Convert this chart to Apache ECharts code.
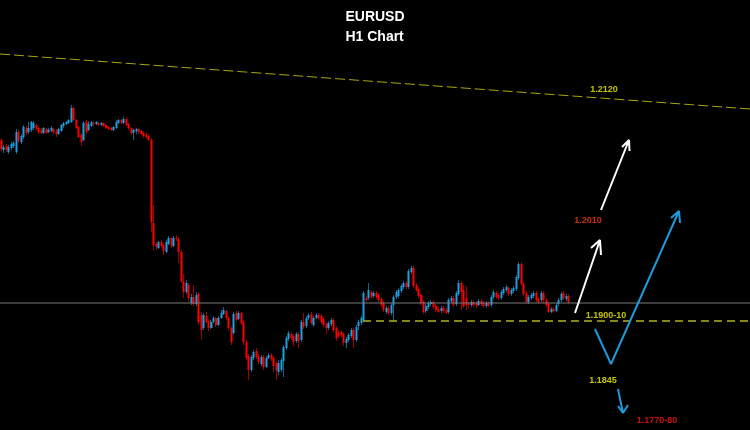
<!DOCTYPE html>
<html>
<head>
<meta charset="utf-8">
<script src="https://cdn.jsdelivr.net/npm/echarts@6/dist/echarts.min.js"></script>
<style>html,body{margin:0;padding:0;background:#000;}#chart{width:750px;height:430px;}</style>
</head>
<body>
<div id="chart"></div>
<script>
// ---- data ----
const categories = Array.from({length: 300}, (_, i) => 'H' + (i + 1));
const opens = [
1.2086,1.2076,1.2080,1.2074,1.2078,1.2080,1.2074,1.2094,1.2084,1.2089,
1.2098,1.2094,1.2096,1.2098,1.2101,1.2098,1.2096,1.2093,1.2097,1.2094,
1.2095,1.2097,1.2095,1.2092,1.2095,1.2100,1.2102,1.2103,1.2104,1.2118,
1.2106,1.2099,1.2091,1.2086,1.2104,1.2096,1.2100,1.2103,1.2102,1.2103,
1.2101,1.2103,1.2101,1.2099,1.2098,1.2096,1.2098,1.2103,1.2106,1.2103,
1.2107,1.2102,1.2098,1.2093,1.2095,1.2097,1.2095,1.2093,1.2091,1.2090,
1.2086,1.2003,1.1982,1.1978,1.1984,1.1981,1.1974,1.1982,1.1988,1.1980,
1.1988,1.1987,1.1974,1.1945,1.1934,1.1941,1.1923,1.1929,1.1922,1.1932,
1.1911,1.1898,1.1910,1.1905,1.1898,1.1904,1.1908,1.1901,1.1908,1.1912,
1.1915,1.1908,1.1898,1.1893,1.1913,1.1907,1.1913,1.1904,1.1884,1.1870,
1.1856,1.1868,1.1875,1.1870,1.1862,1.1869,1.1859,1.1868,1.1871,1.1868,
1.1863,1.1854,1.1856,1.1865,1.1878,1.1887,1.1892,1.1890,1.1885,1.1892,
1.1886,1.1904,1.1900,1.1908,1.1912,1.1901,1.1908,1.1911,1.1910,1.1907,
1.1902,1.1898,1.1902,1.1906,1.1898,1.1893,1.1894,1.1892,1.1883,1.1886,
1.1890,1.1896,1.1886,1.1900,1.1903,1.1906,1.1928,1.1928,1.1934,1.1930,
1.1933,1.1931,1.1927,1.1923,1.1914,1.1918,1.1913,1.1921,1.1929,1.1930,
1.1935,1.1939,1.1943,1.1939,1.1954,1.1958,1.1941,1.1937,1.1931,1.1924,
1.1915,1.1919,1.1922,1.1924,1.1920,1.1917,1.1915,1.1918,1.1916,1.1914,
1.1925,1.1928,1.1922,1.1932,1.1943,1.1936,1.1928,1.1922,1.1921,1.1924,
1.1923,1.1921,1.1925,1.1923,1.1920,1.1923,1.1921,1.1929,1.1933,1.1931,
1.1928,1.1933,1.1936,1.1938,1.1932,1.1935,1.1937,1.1948,1.1962,1.1942,
1.1933,1.1924,1.1928,1.1930,1.1933,1.1927,1.1926,1.1933,1.1926,1.1922,
1.1914,1.1917,1.1915,1.1922,1.1926,1.1933,1.1927,1.1930
];
const closes = [
1.2077,1.2079,1.2076,1.2079,1.2082,1.2083,1.2094,1.2085,1.2090,1.2099,
1.2093,1.2098,1.2104,1.2103,1.2097,1.2094,1.2093,1.2098,1.2093,1.2096,
1.2098,1.2094,1.2092,1.2097,1.2101,1.2103,1.2104,1.2106,1.2118,1.2106,
1.2098,1.2089,1.2084,1.2103,1.2094,1.2102,1.2104,1.2102,1.2104,1.2101,
1.2103,1.2100,1.2098,1.2097,1.2096,1.2099,1.2104,1.2106,1.2103,1.2107,
1.2101,1.2098,1.2093,1.2096,1.2097,1.2094,1.2092,1.2090,1.2089,1.2086,
1.2004,1.1981,1.1979,1.1984,1.1980,1.1975,1.1984,1.1988,1.1980,1.1988,
1.1987,1.1974,1.1945,1.1934,1.1943,1.1928,1.1929,1.1922,1.1931,1.1904,
1.1896,1.1911,1.1904,1.1898,1.1904,1.1908,1.1901,1.1908,1.1913,1.1916,
1.1908,1.1898,1.1884,1.1912,1.1906,1.1913,1.1903,1.1884,1.1868,1.1856,
1.1869,1.1874,1.1869,1.1864,1.1869,1.1859,1.1868,1.1871,1.1867,1.1860,
1.1856,1.1863,1.1866,1.1879,1.1888,1.1893,1.1888,1.1884,1.1892,1.1885,
1.1904,1.1899,1.1908,1.1911,1.1903,1.1908,1.1911,1.1908,1.1904,1.1901,
1.1898,1.1903,1.1906,1.1896,1.1888,1.1890,1.1891,1.1883,1.1887,1.1891,
1.1896,1.1886,1.1899,1.1904,1.1908,1.1933,1.1926,1.1936,1.1929,1.1933,
1.1929,1.1926,1.1921,1.1916,1.1918,1.1913,1.1921,1.1929,1.1934,1.1936,
1.1940,1.1943,1.1939,1.1955,1.1958,1.1940,1.1936,1.1930,1.1923,1.1914,
1.1920,1.1923,1.1924,1.1919,1.1916,1.1914,1.1918,1.1915,1.1913,1.1926,
1.1928,1.1921,1.1933,1.1943,1.1934,1.1920,1.1921,1.1921,1.1924,1.1921,
1.1920,1.1925,1.1922,1.1920,1.1923,1.1920,1.1929,1.1934,1.1929,1.1928,
1.1934,1.1937,1.1939,1.1932,1.1936,1.1938,1.1949,1.1962,1.1942,1.1932,
1.1924,1.1929,1.1931,1.1933,1.1926,1.1924,1.1933,1.1926,1.1921,1.1914,
1.1917,1.1915,1.1921,1.1926,1.1932,1.1928,1.1930,1.1924
];
const lows = [
1.2075,1.2073,1.2074,1.2072,1.2076,1.2078,1.2072,1.2083,1.2082,1.2087,
1.2091,1.2092,1.2094,1.2096,1.2096,1.2092,1.2092,1.2092,1.2092,1.2093,
1.2094,1.2092,1.2089,1.2091,1.2094,1.2098,1.2101,1.2102,1.2103,1.2105,
1.2097,1.2088,1.2080,1.2085,1.2092,1.2095,1.2099,1.2100,1.2101,1.2100,
1.2100,1.2099,1.2097,1.2096,1.2095,1.2095,1.2097,1.2102,1.2102,1.2102,
1.2100,1.2096,1.2091,1.2086,1.2092,1.2092,1.2091,1.2088,1.2087,1.2085,
1.1994,1.1976,1.1976,1.1977,1.1978,1.1971,1.1973,1.1981,1.1978,1.1979,
1.1985,1.1963,1.1943,1.1928,1.1932,1.1924,1.1921,1.1920,1.1920,1.1901,
1.1886,1.1896,1.1903,1.1895,1.1897,1.1903,1.1899,1.1900,1.1907,1.1911,
1.1906,1.1896,1.1881,1.1891,1.1904,1.1906,1.1901,1.1881,1.1866,1.1846,
1.1854,1.1866,1.1867,1.1862,1.1860,1.1856,1.1858,1.1867,1.1865,1.1854,
1.1846,1.1851,1.1854,1.1849,1.1876,1.1885,1.1886,1.1880,1.1883,1.1878,
1.1884,1.1897,1.1898,1.1906,1.1901,1.1899,1.1907,1.1906,1.1902,1.1899,
1.1892,1.1896,1.1900,1.1894,1.1885,1.1888,1.1889,1.1880,1.1878,1.1884,
1.1888,1.1878,1.1884,1.1896,1.1901,1.1904,1.1924,1.1926,1.1927,1.1928,
1.1927,1.1924,1.1919,1.1914,1.1912,1.1911,1.1911,1.1905,1.1927,1.1928,
1.1933,1.1937,1.1937,1.1937,1.1952,1.1938,1.1934,1.1928,1.1921,1.1912,
1.1913,1.1917,1.1920,1.1917,1.1914,1.1913,1.1913,1.1913,1.1912,1.1912,
1.1923,1.1919,1.1920,1.1930,1.1916,1.1918,1.1916,1.1918,1.1919,1.1919,
1.1918,1.1920,1.1920,1.1918,1.1918,1.1919,1.1919,1.1927,1.1927,1.1926,
1.1926,1.1931,1.1934,1.1930,1.1930,1.1933,1.1935,1.1946,1.1940,1.1930,
1.1922,1.1922,1.1926,1.1928,1.1924,1.1922,1.1924,1.1923,1.1919,1.1913,
1.1913,1.1913,1.1914,1.1920,1.1924,1.1926,1.1925,1.1922
];
const highs = [
1.2088,1.2081,1.2082,1.2081,1.2084,1.2085,1.2097,1.2096,1.2092,1.2101,
1.2100,1.2104,1.2105,1.2105,1.2102,1.2099,1.2098,1.2099,1.2098,1.2098,
1.2100,1.2098,1.2097,1.2098,1.2102,1.2104,1.2105,1.2107,1.2121,1.2120,
1.2107,1.2100,1.2093,1.2105,1.2106,1.2105,1.2105,1.2104,1.2105,1.2104,
1.2104,1.2104,1.2102,1.2100,1.2099,1.2100,1.2106,1.2107,1.2107,1.2109,
1.2109,1.2103,1.2099,1.2097,1.2098,1.2098,1.2096,1.2095,1.2093,1.2092,
1.2088,1.2021,1.1984,1.1985,1.1986,1.1983,1.1986,1.1990,1.1989,1.1990,
1.1991,1.1989,1.1976,1.1952,1.1946,1.1943,1.1932,1.1941,1.1934,1.1934,
1.1914,1.1913,1.1914,1.1907,1.1906,1.1910,1.1909,1.1910,1.1916,1.1919,
1.1916,1.1910,1.1900,1.1914,1.1915,1.1915,1.1914,1.1906,1.1886,1.1872,
1.1871,1.1876,1.1878,1.1872,1.1871,1.1871,1.1870,1.1873,1.1873,1.1870,
1.1865,1.1866,1.1868,1.1881,1.1890,1.1895,1.1894,1.1892,1.1894,1.1894,
1.1906,1.1913,1.1910,1.1913,1.1914,1.1910,1.1913,1.1913,1.1912,1.1909,
1.1904,1.1905,1.1908,1.1908,1.1900,1.1896,1.1896,1.1894,1.1889,1.1893,
1.1898,1.1898,1.1901,1.1906,1.1910,1.1935,1.1930,1.1943,1.1936,1.1935,
1.1935,1.1933,1.1929,1.1925,1.1920,1.1920,1.1923,1.1931,1.1936,1.1938,
1.1942,1.1945,1.1945,1.1957,1.1960,1.1960,1.1943,1.1939,1.1933,1.1926,
1.1922,1.1925,1.1926,1.1926,1.1922,1.1919,1.1920,1.1920,1.1918,1.1928,
1.1930,1.1930,1.1935,1.1946,1.1945,1.1941,1.1940,1.1924,1.1926,1.1926,
1.1925,1.1927,1.1927,1.1925,1.1925,1.1925,1.1931,1.1936,1.1935,1.1933,
1.1936,1.1939,1.1941,1.1940,1.1938,1.1940,1.1951,1.1964,1.1964,1.1944,
1.1935,1.1931,1.1933,1.1935,1.1935,1.1929,1.1935,1.1935,1.1928,1.1924,
1.1919,1.1919,1.1923,1.1928,1.1934,1.1935,1.1932,1.1932
];

// annotation geometry (x in bar units, y in price)
const trendX = [-0.5, 299.5];
const trendY = [1.2172, 1.2117];
const priceLine = 1.1923;
const zoneLevel = 1.1905;
const zoneX = [144.7, 299.5];
const whiteUpAX = [239.9, 251.1, 248.3, 251.1, 251.3];
const whiteUpAY = [1.2016, 1.2086, 1.2079, 1.2086, 1.2075];
const whiteUpBX = [229.5, 239.5, 235.9, 239.5, 239.9];
const whiteUpBY = [1.1913, 1.1986, 1.1978, 1.1986, 1.1971];
const blueVX = [237.5, 243.9, 271.1, 267.9, 271.1, 271.5];
const blueVY = [1.1897, 1.1862, 1.2015, 1.2008, 1.2015, 1.2003];
const blueDownX = [246.7, 248.7, 246.7, 248.7, 250.7];
const blueDownY = [1.1837, 1.1813, 1.1820, 1.1813, 1.1821];
const labelTexts = ['1.2120', '1.2010', '1.1900-10', '1.1845', '1.1770-80'];
const labelX = [241.1, 234.7, 241.9, 240.7, 262.3];
const labelY = [1.2136, 1.2005, 1.1910, 1.1845, 1.1805];

// ---- build ----
const wickData = opens.map((o, i) => [o, closes[i], lows[i], highs[i]]);
const bodyData = opens.map((o, i) => [o, closes[i], Math.min(o, closes[i]), Math.max(o, closes[i])]);
const pts = (xs, ys) => xs.map((x, i) => [x, ys[i]]);
const labelColors = ['#f0f000', '#ff3a1a', '#f0f000', '#f0f000', '#ff1010'];

const lineSeries = (data, color, width, type) => ({
  type: 'line', xAxisIndex: 1, yAxisIndex: 0, data, symbol: 'none', silent: true,
  lineStyle: {color, width, type: type || 'solid'}, z: 5
});

const chart = echarts.init(document.getElementById('chart'), null, {renderer: 'canvas'});
chart.setOption({
  animation: false,
  backgroundColor: '#000000',
  title: {
    text: 'EURUSD\nH1 Chart', left: 'center', top: 2,
    textStyle: {color: '#ffffff', fontSize: 14, fontWeight: 'bold', lineHeight: 20, fontFamily: 'Liberation Sans, Arial, sans-serif', align: 'center'},
    textAlign: 'left'
  },
  grid: {left: 0, right: 0, top: 0, bottom: 0, containLabel: false},
  xAxis: [
    {type: 'category', data: categories, show: false, boundaryGap: true},
    {type: 'value', min: -0.5, max: 299.5, show: false}
  ],
  yAxis: [{type: 'value', min: 1.1796, max: 1.2226, show: false, splitLine: {show: false}}],
  series: [
    lineSeries(pts(trendX, trendY), '#a8a810', 1, [10, 4]),
    lineSeries(pts(trendX, [priceLine, priceLine]), '#7a7a7a', 1),
    lineSeries(pts(zoneX, [zoneLevel, zoneLevel]), '#b4b420', 1.5, [8, 5]),
    {
      type: 'candlestick', xAxisIndex: 0, data: wickData, barWidth: 1, silent: true, z: 2,
      itemStyle: {color: '#16648c', color0: '#a00000', borderColor: '#16648c', borderColor0: '#a00000', borderWidth: 1}
    },
    {
      type: 'candlestick', xAxisIndex: 0, data: bodyData, barWidth: 2.5, silent: true, z: 3,
      itemStyle: {color: '#1ea0e0', color0: '#ff0000', borderColor: '#1ea0e0', borderColor0: '#ff0000', borderWidth: 0}
    },
    lineSeries(pts(whiteUpAX, whiteUpAY), '#ffffff', 2),
    lineSeries(pts(whiteUpBX, whiteUpBY), '#ffffff', 2),
    lineSeries(pts(blueVX, blueVY), '#1e9ad8', 2),
    lineSeries(pts(blueDownX, blueDownY), '#1e9ad8', 2),
    {
      type: 'scatter', xAxisIndex: 1, yAxisIndex: 0, symbolSize: 1, silent: true, z: 6,
      itemStyle: {color: 'rgba(0,0,0,0)'},
      label: {show: true, position: 'inside', fontSize: 9, fontWeight: 'bold', fontFamily: 'Liberation Sans, Arial, sans-serif'},
      data: labelX.map((x, i) => ({value: [x, labelY[i]], label: {formatter: labelTexts[i], color: labelColors[i]}}))
    }
  ]
});
</script>
</body>
</html>
